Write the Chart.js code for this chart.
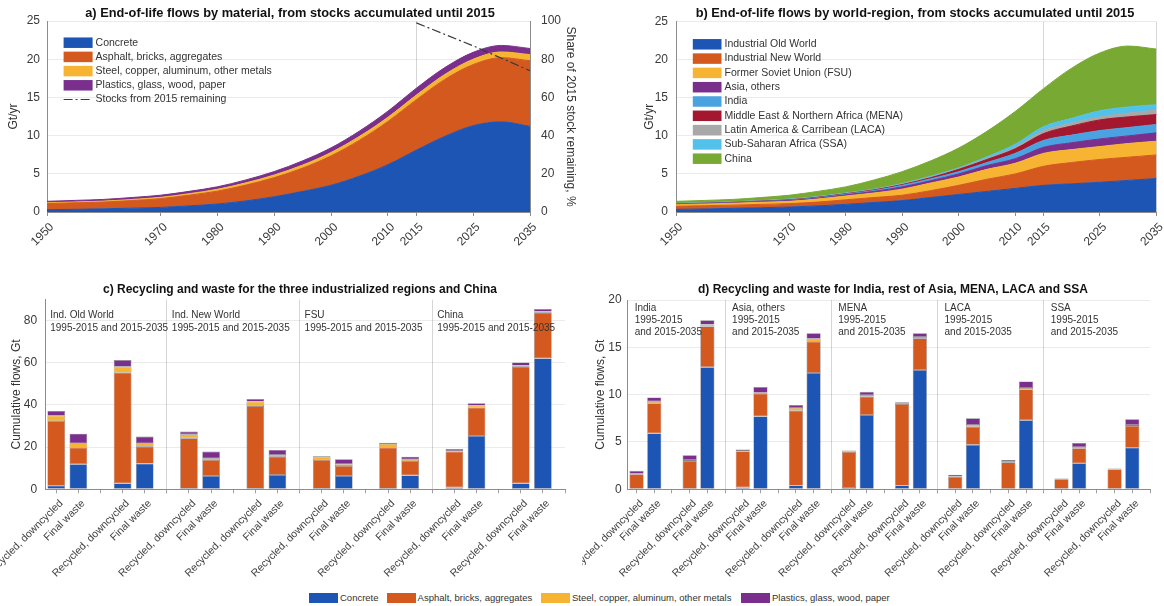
<!DOCTYPE html>
<html>
<head>
<meta charset="utf-8">
<script src="https://cdn.jsdelivr.net/npm/chart.js@4.4.1/dist/chart.umd.min.js"></script>
<style>
  html, body { margin: 0; padding: 0; background: #fff; }
  #fig { position: relative; width: 1164px; height: 606px; overflow: hidden; background: #fff;
         font-family: "Liberation Sans", Arial, Helvetica, sans-serif; }
  canvas { position: absolute; }
  #legend { position: absolute; left: 0; top: 592px; width: 1164px; height: 12px; font-size: 9.5px; color: #333; }
  #legend .item { position: absolute; top: 0; height: 12px; line-height: 12px; white-space: nowrap; }
  #legend .sw { display: inline-block; width: 29px; height: 10px; vertical-align: top; margin-top: 1px; margin-right: 2px; }
</style>
</head>
<body>
<div id="fig">
  <canvas id="chartA" width="582" height="252" style="left:0;top:0"></canvas>
  <canvas id="chartB" width="564" height="252" style="left:600px;top:0"></canvas>
  <canvas id="chartC" width="582" height="315" style="left:0;top:275px"></canvas>
  <canvas id="chartD" width="582" height="315" style="left:582px;top:275px"></canvas>
  <div id="legend"></div>
</div>
<script>
// ---------- data ----------
const years = [1950, 1955, 1960, 1965, 1970, 1975, 1980, 1985, 1990, 1995, 2000, 2005, 2010, 2015, 2020, 2025, 2030, 2035];
const yearTicks = [1950, 1970, 1980, 1990, 2000, 2010, 2015, 2025, 2035];

// a) end-of-life flows by material, Gt/yr
const materials = ['Concrete', 'Asphalt, bricks, aggregates', 'Steel, copper, aluminum, other metals', 'Plastics, glass, wood, paper'];
const flowConcrete = [0.3, 0.35, 0.42, 0.5, 0.6, 0.8, 1.05, 1.45, 2.0, 2.7, 3.5, 4.7, 6.2, 8.1, 9.9, 11.3, 11.8, 11.2];
const flowAsphalt  = [0.8, 0.85, 0.88, 1.0, 1.15, 1.4, 1.68, 2.07, 2.5, 3.05, 3.85, 4.7, 5.65, 6.6, 7.45, 8.0, 8.4, 8.6];
const flowMetals   = [0.1, 0.12, 0.13, 0.15, 0.17, 0.2, 0.25, 0.3, 0.35, 0.4, 0.45, 0.5, 0.55, 0.6, 0.65, 0.7, 0.75, 0.8];
const flowPlastics = [0.2, 0.2, 0.22, 0.25, 0.28, 0.3, 0.32, 0.38, 0.45, 0.55, 0.6, 0.7, 0.8, 0.9, 0.9, 0.9, 0.85, 0.8];
const stockYears = [2015, 2020, 2025, 2030, 2035];
const stockShare = [99, 93, 87, 80.5, 74];

// b) end-of-life flows by world region, Gt/yr
const regions = ['Industrial Old World', 'Industrial New World', 'Former Soviet Union (FSU)', 'Asia, others', 'India',
                 'Middle East & Northern Africa (MENA)', 'Latin America & Carribean (LACA)', 'Sub-Saharan Africa (SSA)', 'China'];
const flowIOW   = [0.35, 0.4, 0.48, 0.56, 0.65, 0.8, 1.0, 1.25, 1.5, 1.9, 2.3, 2.7, 3.1, 3.5, 3.7, 3.9, 4.15, 4.4];
const flowINW   = [0.4, 0.42, 0.42, 0.44, 0.45, 0.5, 0.6, 0.65, 0.7, 0.9, 1.2, 1.6, 1.9, 2.5, 2.8, 3.0, 3.05, 3.1];
const flowFSU   = [0.2, 0.23, 0.25, 0.28, 0.3, 0.4, 0.5, 0.6, 0.8, 1.0, 1.1, 1.3, 1.4, 1.7, 1.7, 1.7, 1.8, 1.8];
const flowAsia  = [0.05, 0.05, 0.07, 0.08, 0.1, 0.1, 0.15, 0.2, 0.3, 0.3, 0.4, 0.5, 0.6, 0.8, 0.9, 1.0, 1.0, 1.1];
const flowIndia = [0.03, 0.03, 0.03, 0.04, 0.05, 0.07, 0.1, 0.12, 0.2, 0.25, 0.3, 0.4, 0.7, 0.9, 1.0, 1.1, 1.1, 1.1];
const flowMENA  = [0.03, 0.03, 0.03, 0.04, 0.05, 0.06, 0.05, 0.08, 0.1, 0.15, 0.3, 0.4, 0.6, 0.9, 1.2, 1.4, 1.4, 1.3];
const flowLACA  = [0.03, 0.03, 0.03, 0.04, 0.05, 0.05, 0.05, 0.05, 0.1, 0.1, 0.1, 0.15, 0.2, 0.4, 0.4, 0.4, 0.5, 0.6];
const flowSSA   = [0.03, 0.03, 0.03, 0.03, 0.05, 0.05, 0.05, 0.05, 0.05, 0.1, 0.1, 0.2, 0.4, 0.5, 0.6, 0.8, 0.8, 0.7];
const flowChina = [0.28, 0.3, 0.31, 0.39, 0.5, 0.67, 0.8, 1.2, 1.55, 2.0, 2.6, 3.35, 4.3, 5.0, 6.6, 7.6, 8.0, 7.3];

// c) cumulative flows, Gt: per region [recycled 1995-2015, final 1995-2015, recycled 2015-2035, final 2015-2035]
const cRegions = ['Ind. Old World', 'Ind. New World', 'FSU', 'China'];
const cConcrete = [1.7, 11.9, 2.8, 12.2,   0.3, 6.3, 0.3, 6.8,   0.3, 6.3, 0.3, 6.6,   0.9, 25.3, 2.8, 62.1];
const cAsphalt  = [30.7, 7.9, 52.5, 8.0,   23.9, 7.6, 39.2, 8.7,  13.6, 4.8, 19.5, 6.8,  17.0, 13.4, 55.4, 21.7];
const cMetals   = [2.5, 2.0, 2.9, 1.6,     1.9, 0.8, 2.1, 0.8,    1.6, 0.8, 1.7, 0.8,    0.3, 1.0, 0.5, 0.5];
const cPlastics = [2.3, 4.6, 3.1, 3.2,     1.3, 3.2, 1.2, 2.4,    0.3, 2.3, 0.6, 1.3,    0.9, 1.1, 1.5, 1.2];
const cYTicks = [0, 20, 40, 60, 80];

// d) cumulative flows, Gt, same ordering
const dRegions = ['India', 'Asia, others', 'MENA', 'LACA', 'SSA'];
const dConcrete = [0.05, 5.9, 0.05, 12.9,  0.2, 7.7, 0.4, 12.3,  0.15, 7.85, 0.4, 12.6,  0.05, 4.7, 0.05, 7.3,  0.05, 2.75, 0.05, 4.4];
const dAsphalt  = [1.55, 3.2, 2.95, 4.3,   3.8, 2.4, 7.9, 3.3,   3.8, 1.95, 8.6, 3.35,   1.25, 1.9, 2.8, 3.25,  1.0, 1.6, 2.05, 2.3];
const dMetals   = [0.05, 0.2, 0.1, 0.2,    0.05, 0.1, 0.3, 0.3,  0.05, 0.15, 0.1, 0.15,  0.05, 0.2, 0.15, 0.15,  0.03, 0.1, 0.05, 0.1];
const dPlastics = [0.3, 0.4, 0.5, 0.45,    0.15, 0.6, 0.3, 0.6,  0.1, 0.35, 0.1, 0.4,    0.2, 0.7, 0.1, 0.7,    0.07, 0.45, 0.05, 0.6];
const dYTicks = [0, 5, 10, 15, 20];

const barKinds = ['Recycled, downcycled', 'Final waste', ''];
const periodText = '1995-2015 and 2015-2035';

// ---------- styling ----------
const FONT = '"Liberation Sans", Arial, Helvetica, sans-serif';
Chart.defaults.font.family = FONT;
Chart.defaults.font.size = 12;
Chart.defaults.color = '#3a3a3a';
Chart.defaults.animation = false;

const COL = {
  blue: '#1d55b4', orange: '#d4591f', yellow: '#f6b432', purple: '#7a2f8d',
  india: '#4aa3e0', mena: '#a3182f', laca: '#a8a8a8', ssa: '#52c2ea', china: '#78aa33'
};
const materialColors = [COL.blue, COL.orange, COL.yellow, COL.purple];
const regionColors = [COL.blue, COL.orange, COL.yellow, COL.purple, COL.india, COL.mena, COL.laca, COL.ssa, COL.china];
const AXIS = '#8c8c8c';
const GRID = 'rgba(0,0,0,0.08)';
const SEP = 'rgba(0,0,0,0.16)';

// Titles, in-plot legends and group captions drawn on each canvas
const panelText = {
  id: 'panelText',
  afterDraw(chart, args, o) {
    const ctx = chart.ctx;
    ctx.save();
    if (o.title) {
      ctx.font = 'bold ' + o.title.size + 'px ' + FONT;
      ctx.fillStyle = '#111';
      ctx.textAlign = 'center';
      ctx.textBaseline = 'middle';
      ctx.fillText(o.title.text, o.title.x, o.title.y);
    }
    if (o.legend) {
      const L = o.legend;
      ctx.font = '10.5px ' + FONT;
      ctx.textAlign = 'left';
      ctx.textBaseline = 'middle';
      chart.data.datasets.forEach((ds, i) => {
        const y = L.y + i * L.dy;
        if (ds.fill === false) {
          ctx.strokeStyle = ds.borderColor;
          ctx.lineWidth = 1.2;
          ctx.setLineDash(ds.borderDash || []);
          ctx.beginPath();
          ctx.moveTo(L.x, y);
          ctx.lineTo(L.x + L.w, y);
          ctx.stroke();
          ctx.setLineDash([]);
        } else {
          ctx.fillStyle = ds.backgroundColor;
          ctx.fillRect(L.x, y - L.h / 2, L.w, L.h);
        }
        ctx.fillStyle = '#333';
        ctx.fillText(ds.label, L.x + L.w + 3, y);
      });
    }
    if (o.groups) {
      const G = o.groups;
      const xs = chart.scales.x;
      ctx.font = '10px ' + FONT;
      ctx.fillStyle = '#333';
      ctx.textAlign = 'left';
      ctx.textBaseline = 'middle';
      G.names.forEach((name, g) => {
        const x0 = g === 0 ? chart.chartArea.left + G.dx : xs.getPixelForValue(g * 6 - 1) + G.dx;
        const lines = [name].concat(G.lines);
        lines.forEach((t, k) => ctx.fillText(t, x0, G.y + k * G.dy));
      });
    }
    ctx.restore();
  }
};

function area(label, values, color, fill) {
  return {
    label, data: years.map((x, i) => ({ x, y: values[i] })),
    backgroundColor: color, borderColor: color, borderWidth: 1,
    pointRadius: 0, fill, cubicInterpolationMode: 'monotone', yAxisID: 'y'
  };
}

function timeAxis(gridYears) {
  return {
    type: 'linear', min: 1950, max: 2035,
    afterBuildTicks: s => { s.ticks = yearTicks.map(v => ({ value: v })); },
    afterFit: s => { s.height = 40; s.paddingLeft = 0; s.paddingRight = 0; },
    ticks: { autoSkip: false, maxRotation: 45, minRotation: 45, padding: 4, labelOffset: 5, color: '#3a3a3a',
             font: { size: 12 }, callback: v => String(v) },
    grid: { color: c => (c.tick && gridYears.includes(c.tick.value)) ? SEP : 'transparent',
            tickLength: 4, tickColor: AXIS, offset: false },
    border: { color: AXIS }
  };
}

// ---------- a) by material ----------
new Chart(document.getElementById('chartA'), {
  type: 'line',
  data: {
    datasets: [
      area(materials[0], flowConcrete, materialColors[0], 'origin'),
      area(materials[1], flowAsphalt, materialColors[1], '-1'),
      area(materials[2], flowMetals, materialColors[2], '-1'),
      area(materials[3], flowPlastics, materialColors[3], '-1'),
      { label: 'Stocks from 2015 remaining', data: stockYears.map((x, i) => ({ x, y: stockShare[i] })),
        yAxisID: 'y1', order: -1, borderColor: '#3a3a3a', borderWidth: 1.2, borderDash: [9, 3, 2, 3],
        pointRadius: 0, fill: false, tension: 0 }
    ]
  },
  options: {
    responsive: false, devicePixelRatio: 1,
    layout: { padding: { top: 21, left: 0, right: 0, bottom: 0 } },
    plugins: {
      legend: { display: false }, tooltip: { enabled: false },
      panelText: {
        title: { text: 'a) End-of-life flows by material, from stocks accumulated until 2015', x: 290, y: 13, size: 12.8 },
        legend: { x: 63.6, y: 42.7, dy: 14.2, w: 29, h: 10.5 }
      }
    },
    scales: {
      x: timeAxis([2015]),
      y: {
        stacked: true, min: 0, max: 25,
        afterBuildTicks: s => { s.ticks = [0, 5, 10, 15, 20, 25].map(v => ({ value: v })); },
        afterFit: s => { s.width = 47; },
        ticks: { padding: 7, font: { size: 12 } },
        grid: { color: GRID, drawTicks: false },
        border: { color: AXIS },
        title: { display: true, text: 'Gt/yr', font: { size: 12 }, color: '#333', padding: { top: 6, bottom: 4 } }
      },
      y1: {
        position: 'right', min: 0, max: 100,
        afterBuildTicks: s => { s.ticks = [0, 20, 40, 60, 80, 100].map(v => ({ value: v })); },
        afterFit: s => { s.width = 52; },
        ticks: { padding: 11, font: { size: 12 } },
        grid: { drawOnChartArea: false, drawTicks: false },
        border: { color: AXIS },
        title: { display: true, text: 'Share of 2015 stock remaining, %', font: { size: 12 }, color: '#333', padding: { top: 4, bottom: 4 } }
      }
    }
  },
  plugins: [panelText]
});

// ---------- b) by world region ----------
const regionFlows = [flowIOW, flowINW, flowFSU, flowAsia, flowIndia, flowMENA, flowLACA, flowSSA, flowChina];
new Chart(document.getElementById('chartB'), {
  type: 'line',
  data: { datasets: regionFlows.map((v, i) => area(regions[i], v, regionColors[i], i === 0 ? 'origin' : '-1')) },
  options: {
    responsive: false, devicePixelRatio: 1,
    layout: { padding: { top: 21.7, left: 38, right: 7.5, bottom: 0 } },
    plugins: {
      legend: { display: false }, tooltip: { enabled: false },
      panelText: {
        title: { text: 'b) End-of-life flows by world-region, from stocks accumulated until 2015', x: 315, y: 13, size: 12.8 },
        legend: { x: 92.8, y: 44.3, dy: 14.3, w: 28.7, h: 10.5 }
      }
    },
    scales: {
      x: timeAxis([2015, 2035]),
      y: {
        stacked: true, min: 0, max: 25,
        afterBuildTicks: s => { s.ticks = [0, 5, 10, 15, 20, 25].map(v => ({ value: v })); },
        afterFit: s => { s.width = 38; },
        ticks: { padding: 8, font: { size: 12 } },
        grid: { color: GRID, drawTicks: false },
        border: { color: AXIS },
        title: { display: true, text: 'Gt/yr', font: { size: 12 }, color: '#333', padding: { top: 4, bottom: 4 } }
      }
    }
  },
  plugins: [panelText]
});

// ---------- c) and d) cumulative recycling and waste ----------
const slotInGroup = [0, 1, 3, 4];
function toPoints(values) {
  return values.map((v, k) => ({ x: Math.floor(k / 4) * 6 + slotInGroup[k % 4], y: v }));
}

function cumulativeChart(id, cfg) {
  const n = cfg.groups.length * 6;
  const idx = Array.from({ length: n }, (_, i) => i);
  const series = [cfg.concrete, cfg.asphalt, cfg.metals, cfg.plastics];
  return new Chart(document.getElementById(id), {
    type: 'bar',
    data: {
      datasets: series.map((v, i) => ({
        label: materials[i], data: toPoints(v), backgroundColor: materialColors[i],
        borderColor: 'rgba(40,30,40,0.55)', borderWidth: 0.6, borderSkipped: false,
        barPercentage: 0.8, categoryPercentage: 1.0
      }))
    },
    options: {
      responsive: false, devicePixelRatio: 1,
      layout: { padding: cfg.padding },
      plugins: {
        legend: { display: false }, tooltip: { enabled: false },
        panelText: {
          title: { text: cfg.title, x: cfg.titleX, y: 15, size: 12 },
          groups: { names: cfg.groups, lines: cfg.groupLines, y: cfg.groupY, dy: cfg.groupDy, dx: cfg.groupDx }
        }
      },
      scales: {
        x: {
          type: 'linear', stacked: true, offset: false, min: -0.5, max: n - 1,
          afterBuildTicks: s => { s.ticks = idx.map(v => ({ value: v })); },
          afterFit: s => { s.height = cfg.xHeight; s.paddingLeft = 0; s.paddingRight = 0; },
          ticks: { autoSkip: false, maxRotation: 45, minRotation: 45, padding: 4, labelOffset: 5, color: '#444',
                   font: { size: 10.5 }, callback: v => barKinds[v % 3] },
          grid: { offset: false, tickLength: 4, tickColor: '#a0a0a0',
                  color: c => (c.tick && c.tick.value % 6 === 5 && c.tick.value !== n - 1) ? SEP : 'transparent' },
          border: { color: AXIS }
        },
        y: {
          stacked: true, min: 0, max: cfg.yMax,
          afterBuildTicks: s => { s.ticks = cfg.yTicks.map(v => ({ value: v })); },
          afterFit: s => { s.width = cfg.yWidth; },
          ticks: { padding: cfg.yPad, font: { size: 12 } },
          grid: { color: GRID, drawTicks: false },
          border: { color: AXIS },
          title: { display: true, text: 'Cumulative flows, Gt', font: { size: 12 }, color: '#333',
                   padding: { top: cfg.yTitlePad, bottom: 4 } }
        }
      }
    },
    plugins: [panelText]
  });
}

cumulativeChart('chartC', {
  title: 'c) Recycling and waste for the three industrialized regions and China', titleX: 300,
  groups: cRegions, groupLines: [periodText], groupY: 40, groupDy: 13, groupDx: 5,
  concrete: cConcrete, asphalt: cAsphalt, metals: cMetals, plastics: cPlastics,
  yMax: 90, yTicks: cYTicks, yWidth: 45.2, yPad: 8, yTitlePad: 9,
  padding: { top: 24.6, left: 0, right: 17, bottom: 0 }, xHeight: 100.7
});

cumulativeChart('chartD', {
  title: 'd) Recycling and waste for India, rest of Asia, MENA, LACA and SSA', titleX: 311,
  groups: dRegions, groupLines: ['1995-2015', 'and 2015-2035'], groupY: 33.3, groupDy: 12.2, groupDx: 7,
  concrete: dConcrete, asphalt: dAsphalt, metals: dMetals, plastics: dPlastics,
  yMax: 20, yTicks: dYTicks, yWidth: 38.2, yPad: 6, yTitlePad: 4,
  padding: { top: 25, left: 7.5, right: 14, bottom: 0 }, xHeight: 100.7
});

// ---------- shared material legend ----------
const legendLefts = [309, 386.6, 541, 741];
const legendBox = document.getElementById('legend');
materials.forEach((m, i) => {
  const item = document.createElement('div');
  item.className = 'item';
  item.style.left = legendLefts[i] + 'px';
  const sw = document.createElement('span');
  sw.className = 'sw';
  sw.style.background = materialColors[i];
  item.appendChild(sw);
  item.appendChild(document.createTextNode(m));
  legendBox.appendChild(item);
});
</script>
</body>
</html>
